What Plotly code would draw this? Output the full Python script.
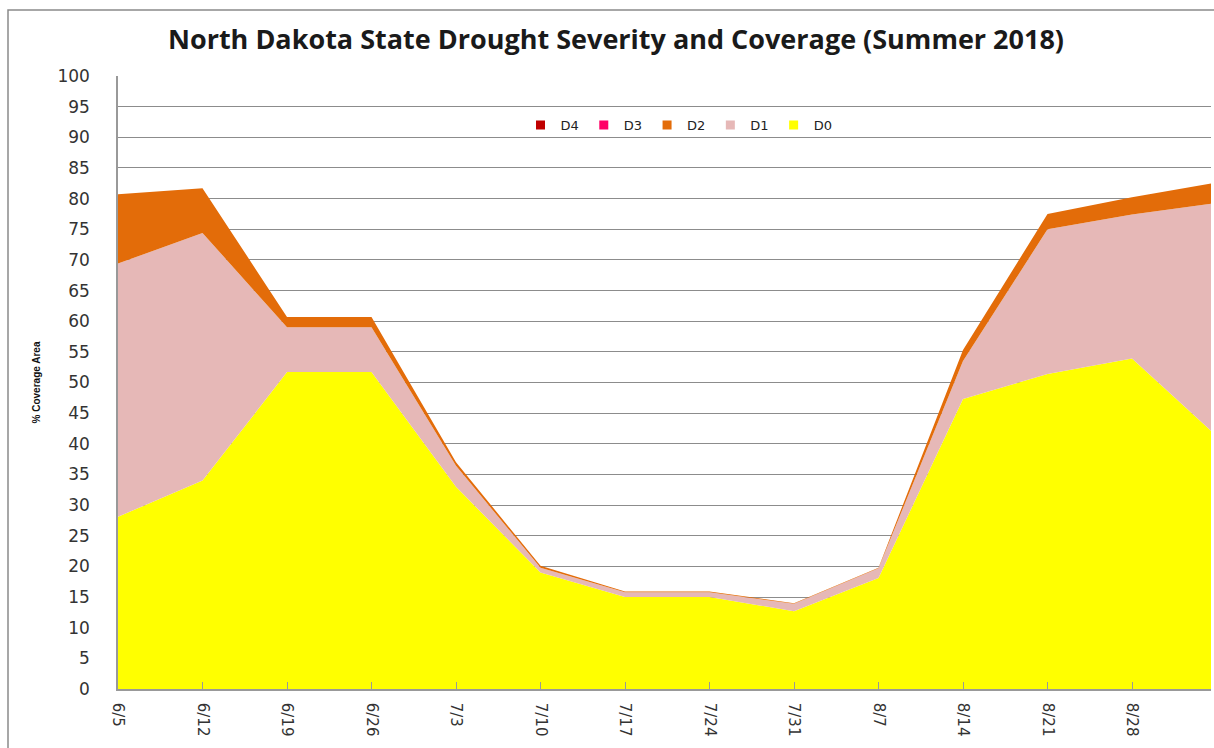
import plotly.graph_objects as go

dates = ["6/5", "6/12", "6/19", "6/26", "7/3", "7/10", "7/17", "7/24",
         "7/31", "8/7", "8/14", "8/21", "8/28", "9/4"]
d0 = [28.1, 34.0, 51.7, 51.7, 33.0, 19.0, 15.0, 15.0, 12.7, 18.1, 47.3, 51.4, 53.9, 41.3]
d1 = [41.3, 40.4, 7.3, 7.3, 3.4, 0.8, 0.8, 0.8, 1.2, 1.6, 6.2, 23.6, 23.5, 38.0]
d2 = [11.3, 7.3, 1.7, 1.7, 0.6, 0.3, 0.1, 0.1, 0.1, 0.1, 1.8, 2.5, 2.8, 3.3]
d3 = [0] * 14
d4 = [0] * 14
y_ticks = list(range(0, 101, 5))

series = [("D0", d0, "#FFFF00"), ("D1", d1, "#E6B8B7"), ("D2", d2, "#E36C09"),
          ("D3", d3, "#FF0066"), ("D4", d4, "#C00000")]

xs = list(range(len(dates)))
fig = go.Figure()
for name, vals, col in series:
    fig.add_trace(go.Scatter(x=xs, y=vals, name=name, stackgroup="one", mode="none",
                             fillcolor=col, line=dict(width=0), showlegend=False,
                             hoverinfo="x+y+name"))
for name, vals, col in reversed(series):
    fig.add_trace(go.Scatter(x=[None], y=[None], name=name, mode="markers",
                             marker=dict(symbol="square", size=9, color=col)))

L, R, T, B = 118, 1211, 76, 689
pw = R - L
ph = B - T
fig.update_layout(
    width=1214, height=748,
    margin=dict(l=L, r=1214 - R, t=T, b=748 - B, pad=0, autoexpand=False),
    paper_bgcolor="white", plot_bgcolor="white",
    title=dict(text="<b>North Dakota State Drought Severity and Coverage (Summer 2018)</b>",
               x=616 / 1214, xanchor="center", y=1 - 40 / 748, yanchor="middle",
               font=dict(family="Open Sans", size=27, color="#1a1a1a")),
    legend=dict(orientation="h", x=(679 - L) / pw, xanchor="center", traceorder="normal",
                y=(B - 125) / ph, yanchor="middle",
                font=dict(family="DejaVu Sans", size=13, color="#222"),
                bgcolor="rgba(0,0,0,0)", itemwidth=30, tracegroupgap=0),
    xaxis=dict(range=[0, (R - L) / 84.5], tickmode="array", tickvals=xs, ticktext=dates,
               tickangle=90, showgrid=False, showline=True, linecolor="#999", linewidth=1.5,
               ticks="inside", ticklen=7, tickcolor="#999", automargin=False,
               ticklabelstandoff=9,
               tickfont=dict(family="DejaVu Sans", size=15, color="#333"), zeroline=False),
    yaxis=dict(range=[0, 100], tickvals=y_ticks, showgrid=True, gridcolor="#8c8c8c", gridwidth=1,
               showline=True, linecolor="#999", linewidth=1.5, zeroline=False,
               ticklabelstandoff=23, automargin=False,
               tickfont=dict(family="DejaVu Sans", size=17, color="#333"),
               title=dict(text="<b>% Coverage Area</b>", standoff=15,
                          font=dict(family="Liberation Sans Narrow, Arial Narrow, Liberation Sans", size=10, color="#111"))),
    shapes=[dict(type="rect", xref="paper", yref="paper",
                 x0=(8 - L) / pw, x1=1.05, y0=-0.3, y1=(B - 10) / ph,
                 line=dict(color="#8a8a8a", width=1.5), fillcolor="rgba(0,0,0,0)", layer="below")],
)
fig.write_html("out.html", config={"displayModeBar": False},
               post_script="document.body.style.margin='0';document.body.style.overflow='hidden';")
